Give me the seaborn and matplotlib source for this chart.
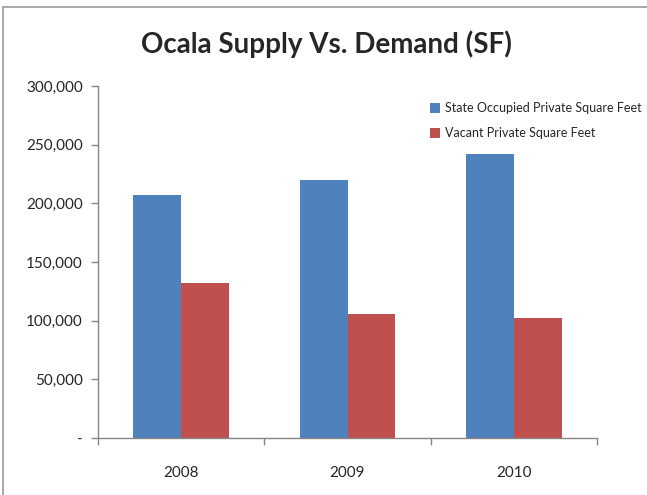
import pandas as pd
import numpy as np
import seaborn as sns
from matplotlib import pyplot as plt
from matplotlib.lines import Line2D
from matplotlib.ticker import FuncFormatter

years = ['2008', '2009', '2010']
occupied = [207000, 220000, 242000]
vacant = [132000, 106000, 102000]
series_names = ['State Occupied Private Square Feet', 'Vacant Private Square Feet']
colors = ['#4f81bd', '#c0504d']

df = pd.DataFrame({
    'year': years * 2,
    'sf': occupied + vacant,
    'series': [series_names[0]] * 3 + [series_names[1]] * 3,
})

sns.set_style('white')
plt.rcParams['font.family'] = ['Lato', 'DejaVu Sans']

fig = plt.figure(figsize=(6.47, 4.95), dpi=100)
ax = fig.add_axes([0.1515, 0.1152, 0.7712, 0.7111])

sns.barplot(data=df, x='year', y='sf', hue='series', palette=colors,
            width=0.574, gap=0, saturation=1, ax=ax, edgecolor='none')

ax.set_ylim(0, 300000)
ax.set_yticks(np.arange(0, 300001, 50000))
ax.yaxis.set_major_formatter(FuncFormatter(lambda v, p: '-' if v == 0 else f'{int(v):,}'))
ax.set_xlim(-0.5, 2.5)
ax.set_xlabel('')
ax.set_ylabel('')

# category boundary ticks on x axis, labels at centres without ticks
ax.set_xticks([-0.5, 0.5, 1.5, 2.5], minor=True)
ax.tick_params(axis='x', which='minor', length=5, color='#868686', width=1, direction='out')
ax.tick_params(axis='x', which='major', length=0, labelsize=11, pad=20)
ax.tick_params(axis='y', length=5, color='#868686', width=1, direction='out', labelsize=11, pad=6)
ax.tick_params(left=True, bottom=True)
ax.xaxis.set_tick_params(which='minor', bottom=True)

for s in ['top', 'right']:
    ax.spines[s].set_visible(False)
for s in ['left', 'bottom']:
    ax.spines[s].set_color('#868686')
    ax.spines[s].set_linewidth(1)

leg = ax.legend(loc='upper left', bbox_to_anchor=(0.655, 0.968), frameon=False,
                fontsize=9, handlelength=0.8, handleheight=0.8, handletextpad=0.4,
                labelspacing=1.05, borderaxespad=0)

fig.text(0.505, 0.91, 'Ocala Supply Vs. Demand (SF)', ha='center', va='center',
         fontsize=20, fontweight='bold')

# outer chart border (top and left edges visible)
fig.add_artist(Line2D([3 / 647, 1], [1 - 7 / 495, 1 - 7 / 495], transform=fig.transFigure,
                      color='#9a9a9a', lw=1.2))
fig.add_artist(Line2D([3 / 647, 3 / 647], [0, 1 - 7 / 495], transform=fig.transFigure,
                      color='#9a9a9a', lw=1.2))

fig.savefig('out.png', dpi=100)
